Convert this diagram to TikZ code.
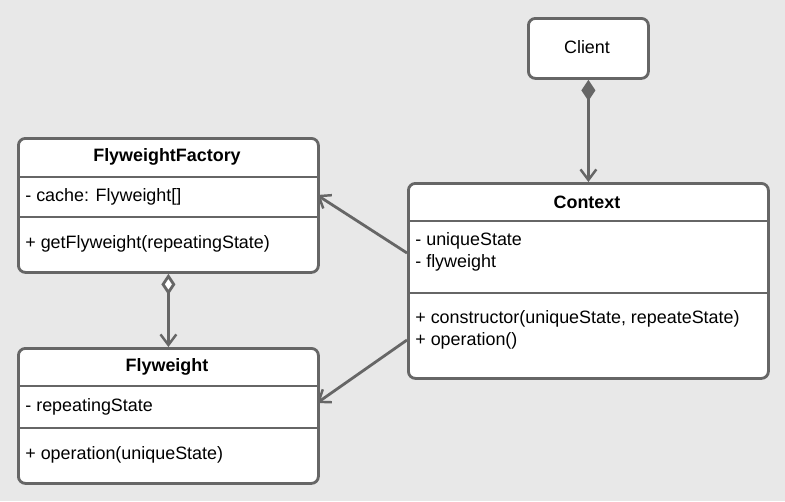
\documentclass[tikz,border=0pt]{standalone}
\usepackage{fontspec}
\setmainfont{Liberation Sans}
\usetikzlibrary{arrows.meta,positioning}
\definecolor{edge}{HTML}{666666}
\definecolor{paper}{HTML}{E8E8E8}
\tikzset{
  box/.style={draw=edge, line width=1.6pt, rounded corners=4pt, fill=white, anchor=north west, inner sep=0pt},
  ttl/.style={font=\fontsize{10.2}{12}\selectfont\bfseries, anchor=center},
  txt/.style={anchor=west, align=left, inner sep=0pt},
  link/.style={draw=edge, line width=1.6pt, -{Straight Barb[length=6pt,width=9pt,line width=1.4pt]}},
}
\begin{document}
\begin{tikzpicture}[x=0.02cm, y=-0.02cm, font=\fontsize{10.2}{12.2}\selectfont]
  \fill [paper] (0,0) rectangle (785,501);
  \useasboundingbox (0,0) rectangle (785,501);

  % Client
  \node [box, minimum width=120*0.02cm, minimum height=60*0.02cm] (client) at (527,17) {};
  \node at (587,47) {Client};

  % FlyweightFactory
  \node [box, minimum width=300*0.02cm, minimum height=134*0.02cm] (factory) at (17,137) {};
  \draw [edge, line width=1.6pt] (17,177) -- (317,177) (17,217) -- (317,217);
  \node [ttl] at (167,157) {FlyweightFactory};
  \node [txt] at (25,197) {- cache: Flyweight[]};
  \node [txt] at (25,244) {+ getFlyweight(repeatingState)};

  % Flyweight
  \node [box, minimum width=300*0.02cm, minimum height=135*0.02cm] (flyweight) at (17,347) {};
  \draw [edge, line width=1.6pt] (17,386) -- (317,386) (17,428) -- (317,428);
  \node [ttl] at (167,367) {Flyweight};
  \node [txt] at (25,407) {- repeatingState};
  \node [txt] at (25,455) {+ operation(uniqueState)};

  % Context
  \node [box, minimum width=360*0.02cm, minimum height=195*0.02cm] (context) at (407,182) {};
  \draw [edge, line width=1.6pt] (407,221) -- (767,221) (407,293) -- (767,293);
  \node [ttl] at (587,202) {Context};
  \node [txt] at (415,252) {- uniqueState\\- flyweight};
  \node [txt] at (415,330) {+ constructor(uniqueState, repeateState)\\+ operation()};

  % connectors
  \coordinate (ctxA) at (407,253);
  \coordinate (ctxB) at (407,340);
  \coordinate (facR) at (317,195);
  \coordinate (flyR) at (317,403);
  \draw [link, {Diamond[length=12pt,width=8pt,fill=edge]}-{Straight Barb[length=6pt,width=9pt,line width=1.4pt]}] (client.south) -- (context.north);
  \draw [link, {Diamond[open,length=12pt,width=8pt,fill=white]}-{Straight Barb[length=6pt,width=9pt,line width=1.4pt]}] (factory.south) -- (flyweight.north);
  \draw [link] (ctxA) -- (facR);
  \draw [link] (ctxB) -- (flyR);
\end{tikzpicture}
\end{document}
